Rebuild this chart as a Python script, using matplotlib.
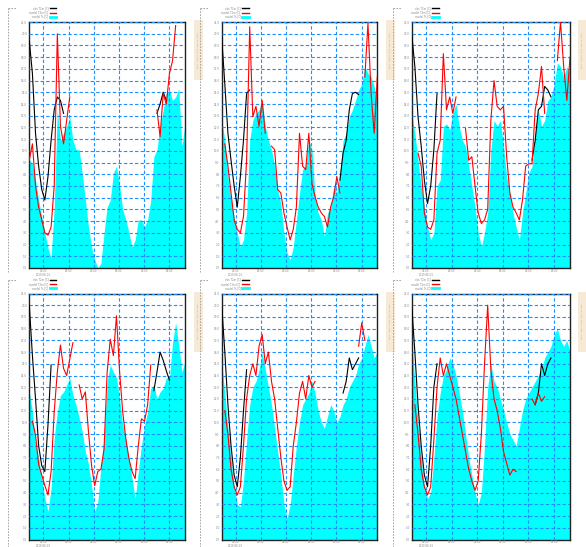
import numpy as np
import matplotlib
matplotlib.use("Agg")
import matplotlib.pyplot as plt
from matplotlib.lines import Line2D
from matplotlib.patches import Rectangle

nan = np.nan

# ---------------- data (grid units, 51 samples per panel) ----------------
p1_fill = [9.2, 8.9, 7.5, 5.8, 4.4, 3.0, 1.7, 0.85, 5.2, 13.5, 10.9, 11.5, 12.1, 12.9, 10.9, 10.1, 10.1,
           8.1, 5.8, 3.5, 1.8, 0.7, 0.0, 0.4, 3.0, 5.2, 5.8, 8.1, 8.7, 7.0, 5.0, 4.1, 3.0, 1.8, 2.4, 4.1,
           4.1, 3.5, 4.1, 5.8, 9.5, 10.1, 12.1, 13.5, 14.9, 15.2, 14.3, 14.6, 15.3, 10.4, 12.3]
p1_red = [9.2, 10.6, 7.0, 5.2, 4.1, 3.0, 2.8, 3.5, 7.0, 20.0, 12.1, 10.6, 12.6, 14.6] + [nan] * 27 + \
         [13.5, 11.2, 14.9, 14.0, 16.6, 17.7, 20.7] + [nan] * 3
p1_black = [19.4, 16.6, 11.5, 8.7, 6.7, 5.8, 7.8, 10.9, 13.5, 14.6, 14.3, 13.2] + [nan] * 29 + \
           [13.2, 14.0, 15.0, 14.3] + [nan] * 6

p2_fill = [12.6, 10.9, 7.8, 5.8, 4.4, 3.0, 1.8, 2.4, 4.7, 10.9, 12.6, 13.2, 13.5, 14.3, 12.1, 10.9, 10.1,
           8.7, 6.7, 5.5, 3.0, 1.3, 0.7, 1.8, 4.1, 6.4, 8.4, 8.7, 10.9, 10.1, 6.1, 4.7, 4.1, 2.7, 4.7, 5.2,
           7.0, 6.4, 8.1, 10.9, 11.5, 12.9, 13.5, 14.3, 15.2, 15.7, 17.2, 16.6, 16.3, 15.5, 14.3]
p2_red = [nan, 10.6, 8.7, 6.4, 4.1, 3.3, 3.0, 4.4, 9.2, 20.6, 12.9, 13.8, 12.1, 14.3, 11.5, nan, 10.4,
          10.1, 6.7, 6.4, 4.7, 3.5, 2.4, 3.3, 5.2, 11.5, 8.7, 8.4, 11.5, 7.2, 6.1, 5.2, 4.7, 4.4, 3.5, 5.2,
          6.1, 7.8, 6.4] + [nan] * 7 + [16.3, 20.9, 14.9, 11.5, 16.3]
p2_black = [19.7, 15.7, 11.5, 9.2, 7.0, 5.2, 7.8, 10.9, 14.9, 15.2] + [nan] * 28 + \
           [7.5, 9.8, 10.9, 13.5, 14.9, 15.0, 14.8] + [nan] * 6

p3_fill = [13.2, 11.5, 9.2, 7.0, 5.2, 3.5, 2.4, 3.0, 7.0, 7.5, 12.1, 12.3, 11.8, 13.2, 14.0, 12.1, 10.9,
           10.4, 8.7, 7.0, 5.2, 3.0, 1.8, 3.0, 4.7, 10.1, 12.6, 12.1, 12.6, 10.4, 7.8, 6.4, 4.7, 3.5, 2.4,
           4.7, 6.4, 8.1, 8.7, 11.5, 13.5, 12.1, 12.6, 14.3, 14.6, 15.7, 17.5, 17.2, 16.3, 17.2, 16.6]
p3_red = [nan, nan, 9.8, 8.7, 4.7, 3.5, 3.3, 4.1, 9.8, 10.9, 18.3, 13.5, 14.6, 13.2, 14.6, nan, nan, 11.9,
          9.2, 9.5, 7.0, 4.7, 3.8, 4.1, 5.0, 12.6, 16.0, 13.8, 13.5, 13.8, 9.5, 6.4, 5.2, 4.7, 4.1, 5.8,
          8.7, 8.9, 8.9, 13.5, 14.9, 17.2, 13.2, nan, nan, nan, 17.7, 21.0, 17.2, 14.3, 18.0]
p3_black = [20.0, 17.2, 12.9, 10.4, 7.5, 5.5, 7.0, 10.1, 14.9] + [nan] * 29 + \
           [9.2, 10.9, 13.5, 13.8, 15.5, 15.2, 14.6] + [nan] * 6

p4_fill = [12.6, 10.9, 8.1, 7.0, 5.2, 3.5, 2.4, 4.4, 8.7, 10.9, 12.3, 12.6, 13.2, 13.8, 12.3, 11.5, 10.4,
           9.2, 7.5, 6.4, 4.6, 2.4, 3.2, 6.3, 8.6, 13.5, 14.9, 14.3, 13.8, 12.0, 9.8, 8.6, 6.9, 5.2, 3.5,
           5.8, 8.0, 9.8, 10.9, 12.9, 13.2, 12.0, 12.6, 12.9, 13.8, 13.8, 16.8, 18.5, 16.6, 14.3, 15.2]
p4_red = [nan, 10.1, 8.9, 6.4, 5.5, 4.6, 3.8, 5.8, 10.9, 14.3, 16.6, 14.6, 14.0, 15.4, 16.8, nan, 13.2,
          12.0, 12.6, 9.2, 6.3, 4.6, 5.8, 6.0, 7.7, 14.3, 17.1, 15.7, 19.1, 14.3, 10.9, 8.6, 6.9, 5.8, 5.2,
          8.0, 10.3, 10.1, 11.5, 14.9] + [nan] * 11
p4_black = [20.0, 15.7, 12.0, 8.0, 6.3, 5.8, 9.8, 14.9] + [nan] * 32 + \
           [12.7, 14.3, 16.0, 15.3, 14.4, 13.6] + [nan] * 5

p5_fill = [15.0, 12.5, 9.5, 7.0, 4.5, 3.0, 2.8, 5.0, 8.5, 11.5, 13.0, 13.5, 14.5, 16.0, 14.5, 13.0, 11.5,
           9.5, 7.5, 5.5, 3.0, 1.8, 3.0, 5.5, 8.0, 10.0, 11.5, 12.0, 12.5, 13.5, 12.5, 11.0, 10.0, 9.5,
           10.5, 11.5, 11.0, 10.0, 10.5, 11.5, 12.0, 13.0, 13.5, 14.0, 15.0, 15.5, 16.5, 17.5, 16.5, 15.5,
           16.0]
p5_red = [nan, 11.0, 9.0, 6.0, 4.5, 3.8, 4.5, 8.0, 12.0, 14.0, 15.0, 14.0, 16.5, 17.5, 15.0, 16.0, 13.5,
          12.0, 9.5, 7.0, 5.0, 4.2, 4.5, 8.0, 10.0, 12.5, 13.5, 12.0, 14.0, 13.0, 13.5] + [nan] * 13 + \
         [16.5, 18.5, 17.0] + [nan] * 4
p5_black = [20.0, 16.0, 11.5, 8.0, 5.5, 4.5, 7.0, 11.0, 14.5] + [nan] * 30 + \
           [12.5, 13.5, 15.5, 14.5, 15.0, 15.5] + [nan] * 6

p6_fill = [17.0, 13.5, 10.0, 7.0, 4.5, 3.5, 4.0, 7.0, 10.5, 12.5, 14.0, 14.5, 15.5, 15.0, 14.0, 12.5,
           11.0, 9.0, 7.0, 5.5, 4.0, 3.0, 4.0, 8.0, 13.0, 15.0, 13.5, 13.0, 12.0, 11.0, 10.0, 9.0, 8.5,
           8.0, 9.5, 11.0, 12.0, 12.5, 13.0, 13.5, 14.0, 14.5, 15.5, 16.0, 16.5, 17.5, 18.0, 17.0, 16.5,
           17.0, 16.0]
p6_red = [nan, 11.5, 9.0, 6.0, 4.5, 3.8, 4.5, 8.5, 13.0, 15.5, 14.0, 15.0, 14.0, 13.0, 12.0, 10.5, 9.0,
          7.5, 6.0, 5.0, 4.2, 5.0, 9.0, 15.0, 20.0, 14.5, 12.0, 11.0, 9.5, 7.5, 6.5, 5.5, 6.0, 5.8] + \
         [nan] * 4 + [12.0, 11.5, 12.5, 11.8, 12.2] + [nan] * 8
p6_black = [20.0, 16.0, 11.5, 8.0, 5.5, 4.5, 8.0, 13.0, 15.0] + [nan] * 30 + \
           [11.5, 12.5, 15.0, 14.0, 15.0, 15.5] + [nan] * 6

panels = [
    (p1_fill, p1_red, p1_black),
    (p2_fill, p2_red, p2_black),
    (p3_fill, p3_red, p3_black),
    (p4_fill, p4_red, p4_black),
    (p5_fill, p5_red, p5_black),
    (p6_fill, p6_red, p6_black),
]

legend_labels = ["obs T2m [C]", "model T2m [C]", "model Ts [C]"]
ytick_labels = ["%.1f" % v for v in np.arange(0, 22, 1.0)]
xtick_labels = ["06:00\n2019-06-01", "18:00", "06:00", "18:00", "06:00", "18:00"]

# ---------------- layout ----------------
W, H = 586, 547
fig = plt.figure(figsize=(W / 100, H / 100), dpi=100)

cols = [(29.3, 185.0), (221.7, 377.3), (411.7, 570.0)]
rows = [(22.0, 268.0), (293.5, 539.5)]

CYAN = "#00FFFF"
GRID = "#1E8FFF"

def fx(px):
    return px / W

def fy(py):
    return 1 - py / H

n = len(p1_fill)
x = np.arange(n)
first_tick = 4.5
tick_step = 8.09
xticks = [first_tick + k * tick_step for k in range(6)]

for k, (fill, red, black) in enumerate(panels):
    r, c = divmod(k, 3)
    x0, x1 = cols[c]
    ytop, ybot = rows[r]
    ax = fig.add_axes([fx(x0), fy(ybot), fx(x1 - x0), (ybot - ytop) / H])
    ax.fill_between(x, 0, np.array(fill, float), color=CYAN, lw=0, zorder=1)
    ax.plot(x, np.array(black, float), color="black", lw=0.8, zorder=3)
    ax.plot(x, np.array(red, float), color="red", lw=0.8, zorder=4)
    ax.set_xlim(0, n - 1)
    ax.set_ylim(0, 21)
    ax.set_yticks(np.arange(0, 22))
    ax.set_yticklabels(ytick_labels, fontsize=2.0, color="#888888")
    ax.set_xticks(xticks)
    ax.set_xticklabels(xtick_labels, fontsize=1.9, color="#888888", linespacing=0.9)
    ax.tick_params(axis="x", length=0, pad=0.6)
    ax.tick_params(axis="y", length=0, pad=1.5)
    ax.grid(True, color=GRID, linestyle=(0, (3, 2)), lw=0.8, zorder=2)
    ax.set_axisbelow(False)
    for s in ax.spines.values():
        s.set_color("#222222")
        s.set_linewidth(1.0)
    handles = [Line2D([], [], color="black", lw=1),
               Line2D([], [], color="red", lw=1),
               Line2D([], [], color=CYAN, lw=2)]
    ax.legend(handles, legend_labels, loc="lower left", bbox_to_anchor=(-0.01, 1.008),
              fontsize=1.9, frameon=False, markerfirst=False, handlelength=2.5,
              labelspacing=0.1, borderpad=0, handletextpad=0.5, labelcolor="#888888")

    # left dashed bracket line of each column block
    lx = [8, 200, 393][c]
    ty = [8, 280][r]
    by = [272, 547][r]
    fig.add_artist(Line2D([fx(lx), fx(lx)], [fy(ty), fy(by)], transform=fig.transFigure,
                          ls=(0, (2, 1.5)), color="#999999", lw=0.6))
    fig.add_artist(Line2D([fx(lx), fx(lx + 8)], [fy(ty), fy(ty)], transform=fig.transFigure,
                          ls=(0, (2, 1.5)), color="#999999", lw=0.6))

    # beige side note block
    bx = [194, 386, 578][c]
    bt = ytop - 2
    fig.add_artist(Rectangle((fx(bx), fy(bt + 60)), fx(9), 60 / H, transform=fig.transFigure,
                             facecolor="#f6ead6", edgecolor="none"))
    fig.text(fx(bx + 4.5), fy(bt + 30), "stn %d  lat/lon  elev  source  note" % (k + 1),
             rotation=90, fontsize=1.6, color="#c4a070", ha="center", va="center")

fig.savefig("out.png", dpi=100)
